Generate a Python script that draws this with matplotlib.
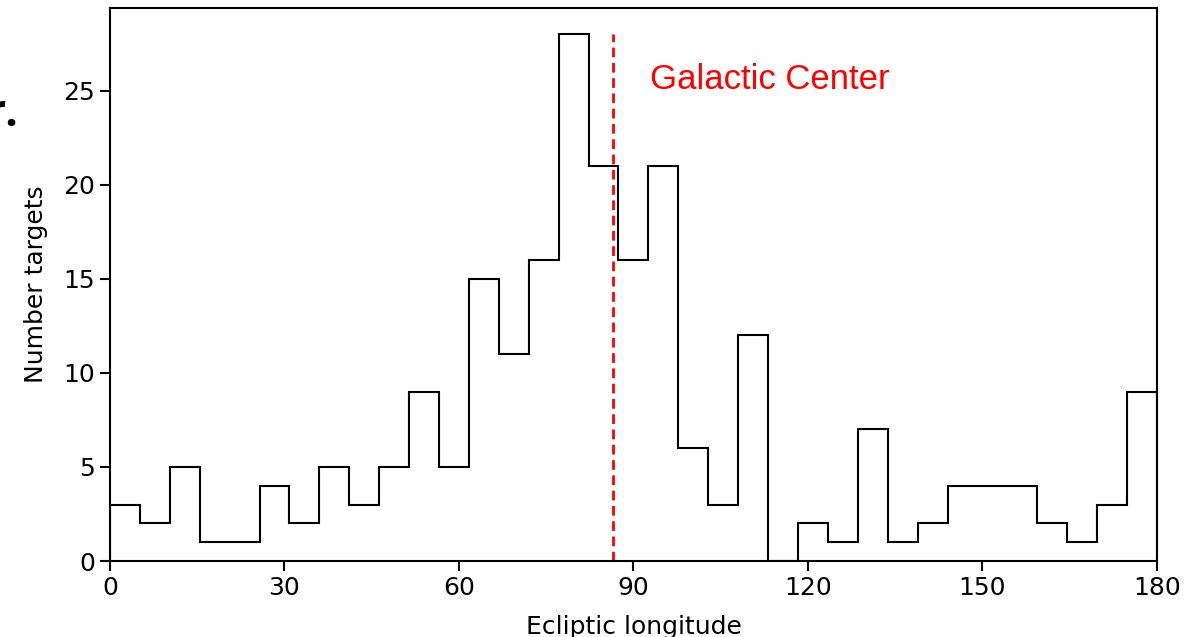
import matplotlib
matplotlib.use("Agg")
import matplotlib.pyplot as plt
import numpy as np

# histogram of targets over ecliptic longitude, 35 bins from 0 to 180
counts = [3, 2, 5, 1, 1, 4, 2, 5, 3, 5, 9, 5, 15, 11, 16, 28, 21, 16, 21, 6,
          3, 12, 0, 2, 1, 7, 1, 2, 4, 4, 4, 2, 1, 3, 9]
edges = np.linspace(0, 180, len(counts) + 1)
gc_lon = 86.5   # galactic center
gc_top = 28

fig = plt.figure(figsize=(11.86, 6.37), dpi=100)
ax = fig.add_axes([0.0927, 0.1193, 0.8828, 0.8681])

ax.stairs(counts, edges, color="black", linewidth=1.5)
ax.plot([gc_lon, gc_lon], [0, gc_top], color="red", linestyle=(0, (3.5, 2)), linewidth=2)
ax.text(92.8, 25.6, "Galactic Center", color="red", fontsize=25,
        family="Liberation Sans", va="center", ha="left")

ax.set_xlim(0, 180)
ax.set_ylim(0, 29.4)
ax.set_xticks(range(0, 181, 30))
ax.set_yticks(range(0, 26, 5))
ax.tick_params(labelsize=18, length=7, width=1.5)
for s in ax.spines.values():
    s.set_linewidth(1.5)
ax.set_xlabel("Ecliptic longitude", fontsize=18, labelpad=11)
ax.set_ylabel("Number targets", fontsize=18, labelpad=11)

# piece of slide text cut off at the left edge
fig.text(-0.012, 0.82, "r.", fontsize=32, family="Open Sans", fontweight="bold",
         ha="left", va="center")

fig.savefig("out.png", dpi=100)
